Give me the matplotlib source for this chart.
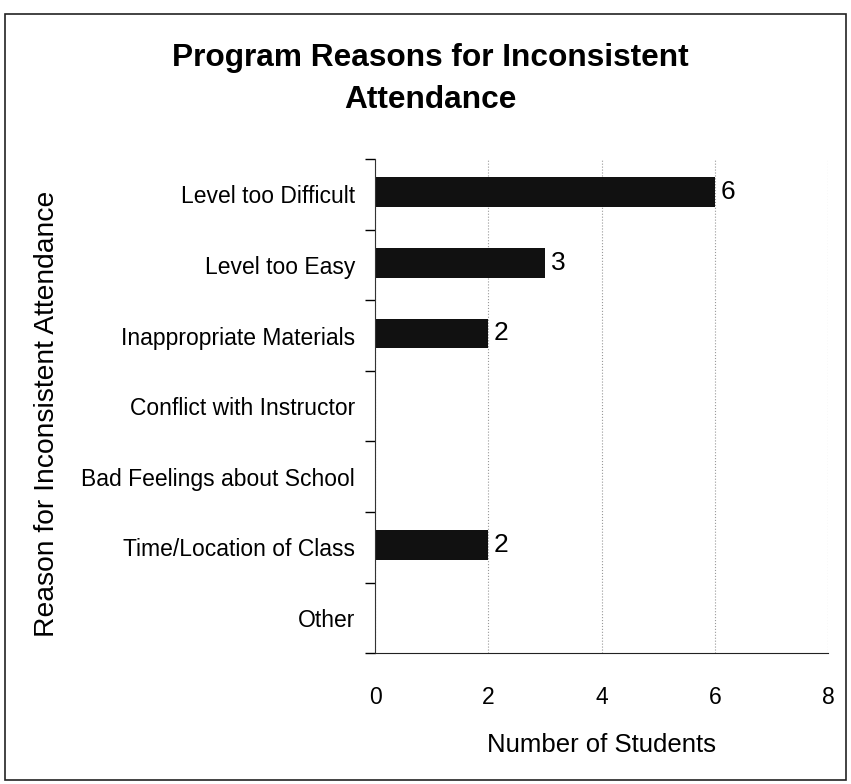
import matplotlib.pyplot as plt
from matplotlib.patches import Rectangle

plt.rcParams['font.family'] = ['Liberation Sans', 'DejaVu Sans']

# Данные
reasons = ['Level too Difficult', 'Level too Easy', 'Inappropriate Materials',
           'Conflict with Instructor', 'Bad Feelings about School',
           'Time/Location of Class', 'Other']
students = [6, 3, 2, 0, 0, 2, 0]
x_ticks = [0, 2, 4, 6, 8]

fig = plt.figure(figsize=(8.51, 7.84), dpi=100)
ax = fig.add_axes([0.4407, 0.167, 0.5323, 0.630])

pos = list(range(len(reasons)))
ax.barh([p - 0.03 for p in pos], students, height=0.42, color='#111111')
for p, v in zip(pos, students):
    if v > 0:
        ax.text(v + 0.1, p - 0.03, str(v), va='center', ha='left', fontsize=19)

ax.set_xlim(0, 8)
ax.set_ylim(len(reasons) - 0.5, -0.5)
ax.set_xticks(x_ticks)
ax.set_xticklabels([str(t) for t in x_ticks], fontsize=16.5)
ax.tick_params(axis='x', length=0, pad=24)

# метки категорий без тиков, тики на границах категорий
ax.set_yticks(pos)
ax.set_yticklabels(reasons, fontsize=16.5)
ax.tick_params(axis='y', which='major', length=0, pad=14.5)
ax.set_yticks([p - 0.5 for p in range(len(reasons) + 1)], minor=True)
ax.tick_params(axis='y', which='minor', length=7, width=1, direction='out')

ax.grid(axis='x', color='#999999', linestyle=':', linewidth=0.8)
ax.set_axisbelow(True)
for s in ['top', 'right']:
    ax.spines[s].set_visible(False)
ax.spines['left'].set_color('#333333')
ax.spines['bottom'].set_color('#222222')

ax.set_xlabel('Number of Students', fontsize=18.5, labelpad=17)
fig.text(0.055, 0.4726, 'Reason for Inconsistent Attendance', rotation=90,
         ha='center', va='center', fontsize=20.3)

fig.text(0.506, 0.899, 'Program Reasons for Inconsistent\nAttendance', ha='center',
         va='center', fontsize=22.8, fontweight='bold', linespacing=1.5)

# рамка
fig.patches.append(Rectangle((0.006, 0.005), 0.988, 0.977, transform=fig.transFigure,
                             fill=False, edgecolor='#222222', linewidth=1.2))

fig.savefig('out.png', dpi=100)
